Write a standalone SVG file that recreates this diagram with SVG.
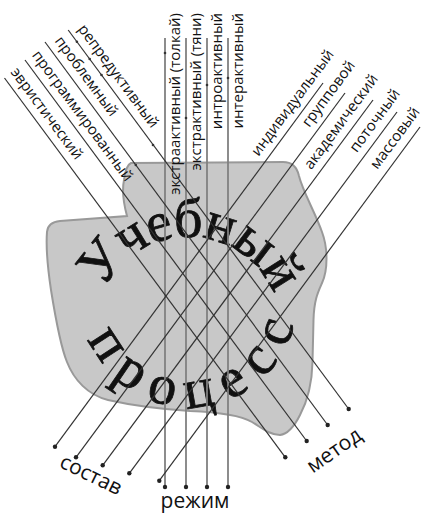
<svg xmlns="http://www.w3.org/2000/svg" width="423" height="514" viewBox="0 0 423 514">
<style>
.vl{stroke:#808080;stroke-width:1.8;fill:none}
.dl{stroke:#333;stroke-width:1.2;fill:none}
.dot{fill:#222}
.tick{fill:#333}
.lbl{font-family:"Open Sans","DejaVu Sans",sans-serif;font-size:15px;fill:#111}
.big{font-family:"Open Sans","DejaVu Sans",sans-serif;font-size:21px;fill:#111}
.arc{font-family:"Liberation Serif","DejaVu Serif",serif;font-size:56px;fill:#111;stroke:#111;stroke-width:0.8}
</style>
<defs>
<path id="topArc" d="M 98.17,305.93 A 93 93 0 0 1 280.65,338.1"/>
<path id="botArc" d="M 82.64,317.75 A 108 108 0 0 0 296.6,289.6"/>
</defs>
<rect width="423" height="514" fill="#fff"/>
<g id="blob">
<path d="M 131,163 L 283,162 Q 296,162 299,176 C 303,192 315,212 322,232 C 328,248 328,270 322,283 C 318,292 314,300 313.5,320 L 312.5,362 C 312,385 308,400 300,415 C 294,427 288,434 280,435 C 270,435 262,428 252,422 C 240,415 215,412 190,411 C 160,409 130,405 108,400 C 88,395 74,380 67,362 C 60,345 55,315 51,290 C 48,270 46,245 47,232 Q 48,222 60,221 L 127,216 C 124,205 122,190 124,180 Q 126,165 131,163 Z" fill="#c8c8c8" stroke="#999" stroke-width="2"/>
</g>
<g id="title">
<text class="arc" letter-spacing="-1"><textPath href="#topArc" startOffset="18">Учебный</textPath></text>
<text class="arc" letter-spacing="13.5"><textPath href="#botArc" startOffset="21.9">процесс</textPath></text>
</g>
<g id="connectors">
<line class="vl" x1="165" y1="38" x2="165" y2="487"/>
<line class="vl" x1="186" y1="38" x2="186" y2="487"/>
<line class="vl" x1="207" y1="38" x2="207" y2="487"/>
<line class="vl" x1="228" y1="38" x2="228" y2="487"/>
<line class="dl" x1="68.2" y1="30" x2="348.7" y2="409"/>
<line class="dl" x1="45" y1="42" x2="327.7" y2="425"/>
<line class="dl" x1="25" y1="60" x2="306.7" y2="441"/>
<line class="dl" x1="4.5" y1="78" x2="285.3" y2="457.3"/>
<line class="dl" x1="323" y1="83" x2="55" y2="446.7"/>
<line class="dl" x1="345" y1="93" x2="76" y2="457.3"/>
<line class="dl" x1="373" y1="100" x2="102.7" y2="465.3"/>
<line class="dl" x1="397" y1="112" x2="129.3" y2="473.3"/>
<line class="dl" x1="420" y1="127" x2="159.3" y2="480.7"/>
<circle class="dot" cx="165" cy="487" r="2.2"/>
<circle class="dot" cx="186" cy="487" r="2.2"/>
<circle class="dot" cx="207" cy="487" r="2.2"/>
<circle class="dot" cx="228" cy="487" r="2.2"/>
<circle class="dot" cx="348.7" cy="409" r="2.2"/>
<circle class="dot" cx="327.7" cy="425" r="2.2"/>
<circle class="dot" cx="306.7" cy="441" r="2.2"/>
<circle class="dot" cx="285.3" cy="457.3" r="2.2"/>
<circle class="dot" cx="55" cy="446.7" r="2.2"/>
<circle class="dot" cx="76" cy="457.3" r="2.2"/>
<circle class="dot" cx="102.7" cy="465.3" r="2.2"/>
<circle class="dot" cx="129.3" cy="473.3" r="2.2"/>
<circle class="dot" cx="159.3" cy="480.7" r="2.2"/>
<circle class="tick" cx="76.9" cy="41.7" r="1.3"/>
<circle class="tick" cx="89.7" cy="59" r="1.3"/>
<circle class="tick" cx="101.5" cy="75" r="1.3"/>
<circle class="tick" cx="153" cy="145" r="1.3"/>
<circle class="tick" cx="135.8" cy="165" r="1.3"/>
<circle class="tick" cx="165" cy="53" r="1.3"/>
<circle class="tick" cx="186" cy="118" r="1.3"/>
<circle class="tick" cx="207" cy="85" r="1.3"/>
<circle class="tick" cx="228" cy="78" r="1.3"/>
</g>
<g id="labels-mode">
<text class="lbl" transform="translate(180,13) rotate(-90)" text-anchor="end">экстраактивный (толкай)</text>
<text class="lbl" transform="translate(201,13) rotate(-90)" text-anchor="end">экстрактивный (тяни)</text>
<text class="lbl" transform="translate(222,13) rotate(-90)" text-anchor="end">интроактивный</text>
<text class="lbl" transform="translate(243,13) rotate(-90)" text-anchor="end">интерактивный</text>
</g>
<g id="labels-method">
<text class="lbl" transform="translate(114.4,79) rotate(53.5)" text-anchor="middle">репредуктивный</text>
<text class="lbl" transform="translate(82.5,79.2) rotate(53.5)" text-anchor="middle">проблемный</text>
<text class="lbl" transform="translate(78.5,118.8) rotate(53.5)" text-anchor="middle">программированный</text>
<text class="lbl" transform="translate(42.9,116.5) rotate(53.5)" text-anchor="middle">эвристический</text>
</g>
<g id="labels-composition">
<text class="lbl" transform="translate(296.4,105.6) rotate(-53.5)" text-anchor="middle">индивидуальный</text>
<text class="lbl" transform="translate(332.4,96.7) rotate(-53.5)" text-anchor="middle">групповой</text>
<text class="lbl" transform="translate(345,124.5) rotate(-53.5)" text-anchor="middle">академический</text>
<text class="lbl" transform="translate(378.7,123.4) rotate(-53.5)" text-anchor="middle">поточный</text>
<text class="lbl" transform="translate(398.8,141) rotate(-53.5)" text-anchor="middle">массовый</text>
</g>
<g id="axis-labels">
<text class="big" transform="translate(88,481) rotate(26)" text-anchor="middle">состав</text>
<text class="big" x="195" y="508" text-anchor="middle">режим</text>
<text class="big" transform="translate(338,456) rotate(-35)" text-anchor="middle">метод</text>
</g>
</svg>
